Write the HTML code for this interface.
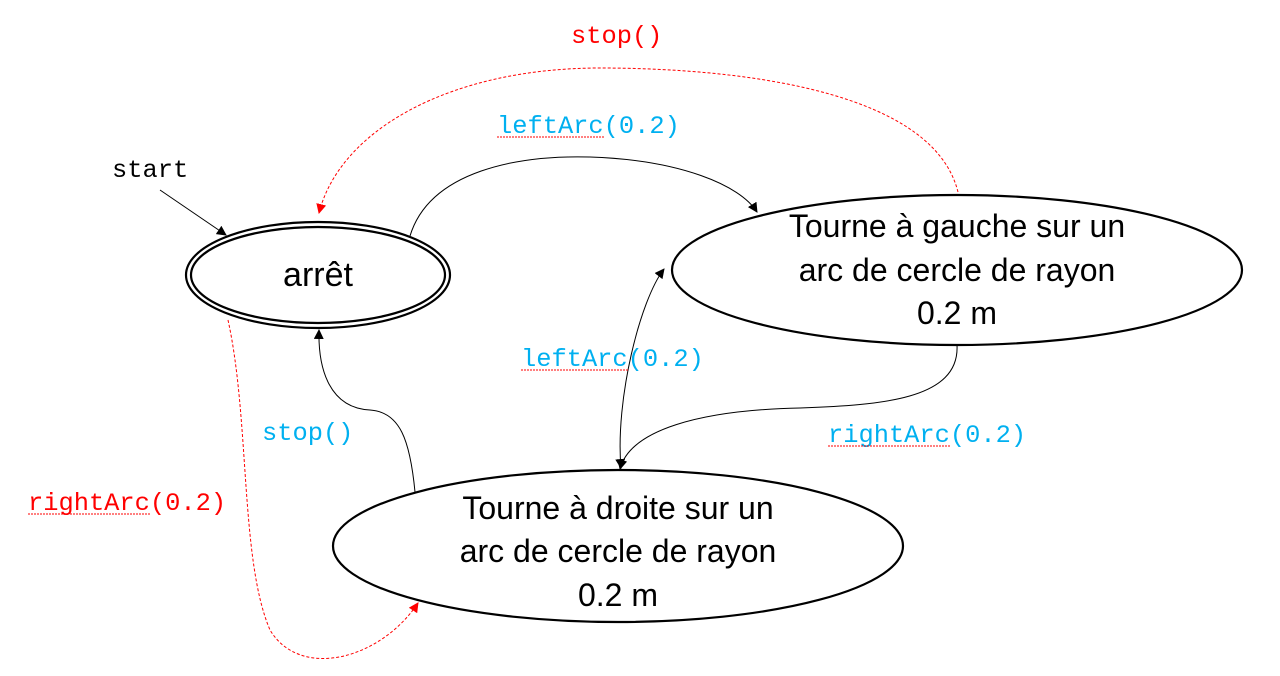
<!DOCTYPE html>
<html><head><meta charset="utf-8"><style>
body{margin:0;background:#fff;}
svg{display:block}
.m{font-family:"Liberation Mono",monospace;font-size:25.4px;}
.s{font-family:"Liberation Sans",sans-serif;font-size:32px;fill:#000;}
</style></head><body>
<svg width="1280" height="676" viewBox="0 0 1280 676" xmlns="http://www.w3.org/2000/svg">
<defs>
<marker id="ab" markerWidth="10" markerHeight="10" refX="9" refY="5" orient="auto" markerUnits="userSpaceOnUse"><path d="M0,0 L10,5 L0,10 z" fill="#000"/></marker>
<marker id="ar" markerWidth="10" markerHeight="10" refX="9" refY="5" orient="auto" markerUnits="userSpaceOnUse"><path d="M0,0 L10,5 L0,10 z" fill="#f00"/></marker>
<marker id="abs" markerWidth="10" markerHeight="10" refX="1" refY="5" orient="auto" markerUnits="userSpaceOnUse"><path d="M10,0 L0,5 L10,10 z" fill="#000"/></marker>
</defs>
<ellipse cx="318" cy="275" rx="132" ry="53" fill="none" stroke="#000" stroke-width="2.2"/>
<ellipse cx="318" cy="275" rx="127" ry="48" fill="none" stroke="#000" stroke-width="2.2"/>
<ellipse cx="957" cy="270" rx="285" ry="75" fill="none" stroke="#000" stroke-width="2.2"/>
<ellipse cx="618" cy="546" rx="285" ry="76" fill="none" stroke="#000" stroke-width="2.2"/>
<text x="318" y="286" text-anchor="middle" class="s" style="font-size:34px">arrêt</text>
<text x="957" y="237" text-anchor="middle" class="s">Tourne à gauche sur un</text>
<text x="957" y="281" text-anchor="middle" class="s">arc de cercle de rayon</text>
<text x="957" y="324" text-anchor="middle" class="s">0.2 m</text>
<text x="618" y="519" text-anchor="middle" class="s">Tourne à droite sur un</text>
<text x="618" y="562" text-anchor="middle" class="s">arc de cercle de rayon</text>
<text x="618" y="606" text-anchor="middle" class="s">0.2 m</text>
<text x="112" y="177" class="m" fill="#000">start</text>
<path d="M160,190 L226,235" stroke="#000" stroke-width="1" fill="none" marker-end="url(#ab)"/>
<path d="M958,192 C930,80 700,68 600,68 C450,68 340,130 319,213" stroke="#f00" stroke-width="1" stroke-dasharray="3,2" fill="none" marker-end="url(#ar)"/>
<text x="571" y="43" class="m" fill="#f00">stop()</text>
<path d="M410,236 C430,170 520,155 590,157 C680,160 740,185 757,212" stroke="#000" stroke-width="1" fill="none" marker-end="url(#ab)"/>
<text x="497" y="133" class="m" fill="#00b0f0">leftArc(0.2)</text>
<path d="M497,137 L604,137" stroke="#f00" stroke-width="1" stroke-dasharray="2,1"/>
<path d="M621,468 C615,400 640,300 664,269" stroke="#000" stroke-width="1" fill="none" marker-start="url(#abs)" marker-end="url(#ab)"/>
<text x="521" y="366" class="m" fill="#00b0f0">leftArc(0.2)</text>
<path d="M521,370 L628,370" stroke="#f00" stroke-width="1" stroke-dasharray="2,1"/>
<path d="M957,345 C960,400 880,405 800,408 C700,410 630,430 620,469" stroke="#000" stroke-width="1" fill="none" marker-end="url(#ab)"/>
<text x="828" y="442" class="m" fill="#00b0f0">rightArc(0.2)</text>
<path d="M828,446 L950,446" stroke="#f00" stroke-width="1" stroke-dasharray="2,1"/>
<path d="M415,492 C410,440 400,412 370,410 C330,408 318,370 319,330" stroke="#000" stroke-width="1" fill="none" marker-end="url(#ab)"/>
<text x="262" y="440" class="m" fill="#00b0f0">stop()</text>
<path d="M228,320 C250,420 240,560 270,630 C300,680 380,660 418,603" stroke="#f00" stroke-width="1" stroke-dasharray="3,2" fill="none" marker-end="url(#ar)"/>
<text x="28" y="510" class="m" fill="#f00">rightArc(0.2)</text>
<path d="M28,514 L150,514" stroke="#f00" stroke-width="1" stroke-dasharray="2,1"/>
</svg>
</body></html>
